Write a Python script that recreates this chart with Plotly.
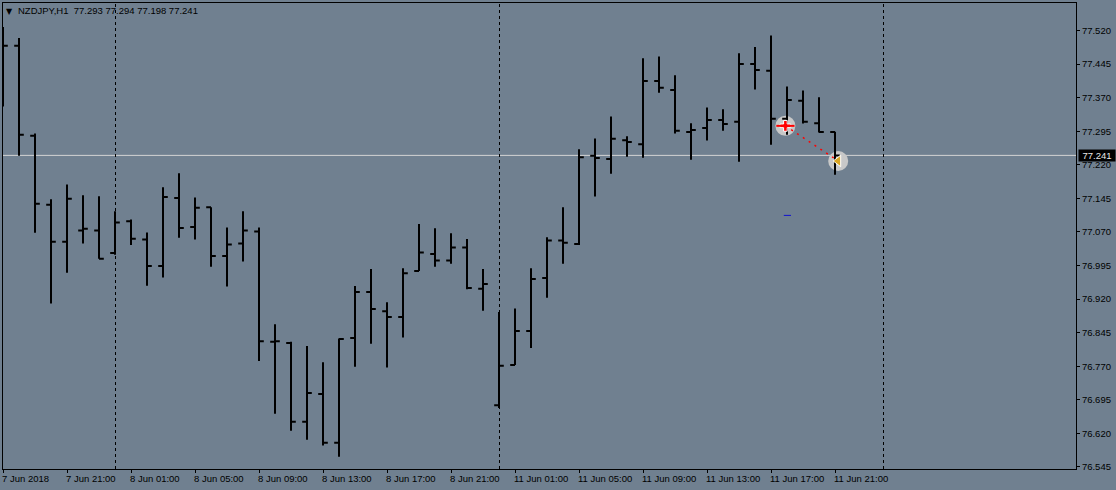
import plotly.graph_objects as go

symbol = "NZDJPY,H1"

# hourly bars, 7 Jun 2018 17:00 onwards (weekend not shown, so x is the bar index)
opens = [77.410, 77.486, 77.285, 77.131, 77.048, 77.073, 77.073, 77.023, 77.094, 77.053,
         76.994, 77.146, 77.081, 77.125, 77.016, 77.044, 77.071, 76.825, 76.822, 76.646,
         76.708, 76.599, 76.833, 76.936, 76.893, 76.880, 76.983, 77.021, 77.006, 77.035,
         76.943, 76.683, 76.773, 76.849, 76.967, 77.051, 77.043, 77.240, 77.233, 77.275,
         77.266, 77.407, 77.387, 77.293, 77.302, 77.320, 77.316, 77.445, 77.430, 77.323,
         77.363, 77.313, 77.293]
highs = [77.528, 77.503, 77.290, 77.143, 77.176, 77.152, 77.150, 77.116, 77.098, 77.069,
         77.170, 77.201, 77.147, 77.125, 77.080, 77.116, 77.080, 76.864, 76.825, 76.815,
         76.779, 76.832, 76.949, 76.987, 76.913, 76.989, 77.088, 77.078, 77.067, 77.054,
         76.987, 76.891, 76.899, 76.989, 77.058, 77.125, 77.255, 77.279, 77.328, 77.284,
         77.458, 77.462, 77.420, 77.313, 77.348, 77.344, 77.469, 77.483, 77.509, 77.395,
         77.386, 77.371, 77.294]
lows = [77.350, 77.240, 77.068, 76.910, 76.979, 77.044, 77.010, 77.019, 77.041, 76.950,
        76.968, 77.057, 77.053, 76.992, 76.948, 77.004, 76.782, 76.664, 76.626, 76.606,
        76.593, 76.568, 76.769, 76.820, 76.767, 76.834, 76.983, 76.992, 76.999, 76.942,
        76.894, 76.677, 76.773, 76.811, 76.923, 76.999, 77.041, 77.149, 77.200, 77.238,
        77.236, 77.381, 77.290, 77.231, 77.274, 77.296, 77.227, 77.388, 77.265, 77.287,
        77.312, 77.292, 77.198]
closes = [77.486, 77.287, 77.133, 77.048, 77.144, 77.077, 77.010, 77.091, 77.055, 76.994,
          77.148, 77.079, 77.124, 77.016, 77.042, 77.073, 76.826, 76.826, 76.646, 76.710,
          76.599, 76.831, 76.936, 76.898, 76.880, 76.978, 77.024, 77.006, 77.035, 76.945,
          76.954, 76.771, 76.849, 76.965, 77.051, 77.046, 77.237, 77.235, 77.278, 77.271,
          77.407, 77.392, 77.296, 77.298, 77.320, 77.311, 77.445, 77.432, 77.323, 77.365,
          77.316, 77.293, 77.241]

time_ticks = [0, 4, 8, 12, 16, 20, 24, 28, 32, 36, 40, 44, 48, 52]
time_labels = ["7 Jun 2018", "7 Jun 21:00", "8 Jun 01:00", "8 Jun 05:00", "8 Jun 09:00",
               "8 Jun 13:00", "8 Jun 17:00", "8 Jun 21:00", "11 Jun 01:00", "11 Jun 05:00",
               "11 Jun 09:00", "11 Jun 13:00", "11 Jun 17:00", "11 Jun 21:00"]
price_ticks = [77.520, 77.445, 77.370, 77.295, 77.220, 77.145, 77.070, 76.995,
               76.920, 76.845, 76.770, 76.695, 76.620, 76.545]
period_seps = [7, 31, 55]

# trade markers
trade_x = [48.9, 52.2]
trade_y = [77.307, 77.2285]
blue_x = [48.8, 49.25]
blue_y = [77.107, 77.107]

BG = "#708090"
FONT = "Liberation Sans"
FS = 9.5

fig = go.Figure()

fig.add_trace(go.Ohlc(
    x=list(range(len(opens))), open=opens, high=highs, low=lows, close=closes,
    increasing=dict(line=dict(color="black", width=2)),
    decreasing=dict(line=dict(color="black", width=2)),
    tickwidth=0.3, hoverinfo="skip", showlegend=False,
))
fig.add_trace(go.Scatter(x=trade_x, y=trade_y, mode="lines",
                         line=dict(color="red", width=1.5, dash="2px,5px"),
                         hoverinfo="skip", showlegend=False))
fig.add_trace(go.Scatter(x=blue_x, y=blue_y, mode="lines",
                         line=dict(color="#1010d0", width=1),
                         hoverinfo="skip", showlegend=False))
fig.add_trace(go.Scatter(x=trade_x[:1], y=trade_y[:1], mode="markers",
                         marker=dict(symbol="cross", size=9, color="red",
                                     line=dict(color="white", width=1)),
                         hoverinfo="skip", showlegend=False))
fig.add_trace(go.Scatter(x=trade_x[:1], y=trade_y[:1], mode="markers",
                         marker=dict(symbol="line-ew", size=13,
                                     line=dict(color="red", width=2)),
                         hoverinfo="skip", showlegend=False))
fig.add_trace(go.Scatter(x=trade_x[1:], y=trade_y[1:], mode="markers",
                         marker=dict(symbol="triangle-left", size=10, color="#daa520",
                                     line=dict(color="white", width=1)),
                         hoverinfo="skip", showlegend=False))

# last price line and period separators sit under the bars
fig.add_shape(type="line", xref="paper", x0=0, x1=1, y0=closes[-1], y1=closes[-1],
              line=dict(color="#d3d3d3", width=1), layer="below")
for s in period_seps:
    fig.add_shape(type="line", xsizemode="pixel", xanchor=s, x0=0.5, x1=0.5,
                  yref="paper", y0=0, y1=1,
                  line=dict(color="black", width=1, dash="3px,3px"), layer="below")
for tx, ty in zip(trade_x, trade_y):
    fig.add_shape(type="circle", xsizemode="pixel", ysizemode="pixel",
                  xanchor=tx, yanchor=ty, x0=-10, x1=10, y0=-10, y1=10,
                  fillcolor="#c8c8c8", line=dict(width=0), layer="below")

# time labels start at their tick, they are not centred on it
for t, lab in zip(time_ticks, time_labels):
    fig.add_annotation(x=t, xref="x", y=0, yref="paper", yanchor="top", xanchor="left",
                       text=lab, showarrow=False, xshift=-2, yshift=-3, borderpad=0,
                       font=dict(family=FONT, size=FS, color="black"))

header = f"{symbol}\u00a0\u00a0{opens[-1]:.3f} {highs[-1]:.3f} {lows[-1]:.3f} {closes[-1]:.3f}"
fig.add_annotation(xref="paper", x=0, yref="paper", y=1, xanchor="left", yanchor="top",
                   text=header, showarrow=False, xshift=14, yshift=-1, borderpad=0,
                   font=dict(family=FONT, size=FS, color="black"))
fig.add_annotation(xref="paper", x=0, yref="paper", y=1, xanchor="left", yanchor="top",
                   text="\u25bc", showarrow=False, xshift=2, yshift=-3, borderpad=0,
                   font=dict(family="DejaVu Sans", size=8, color="black"))
fig.add_annotation(xref="paper", x=1, y=closes[-1], yref="y", xanchor="left", yanchor="middle",
                   text=f"{closes[-1]:.3f}", showarrow=False, xshift=2, borderpad=0,
                   width=36, height=11, align="center",
                   bgcolor="black", font=dict(family=FONT, size=FS, color="#e8e8e8"))

fig.update_layout(
    width=1116, height=490,
    margin=dict(l=3, r=40, t=3, b=21),
    paper_bgcolor=BG, plot_bgcolor=BG,
    showlegend=False,
    font=dict(family=FONT, size=FS, color="black"),
    xaxis=dict(range=[0, 67.0625], rangeslider=dict(visible=False),
               tickmode="array", tickvals=time_ticks, showticklabels=False,
               ticks="outside", ticklen=3, tickcolor="black", tickwidth=1,
               showgrid=False, zeroline=False, showline=True, linecolor="black",
               linewidth=1, mirror=True),
    yaxis=dict(range=[76.5405, 77.5814], side="right",
               tickmode="array", tickvals=price_ticks,
               ticktext=[f"{p:.3f}" for p in price_ticks],
               ticks="outside", ticklen=3, tickcolor="black", tickwidth=1,
               showgrid=False, zeroline=False, showline=True, linecolor="black",
               linewidth=1, mirror=True),
)

fig.write_html("out.html", config=dict(displayModeBar=False),
               post_script="document.body.style.margin='0';document.body.style.overflow='hidden';")
